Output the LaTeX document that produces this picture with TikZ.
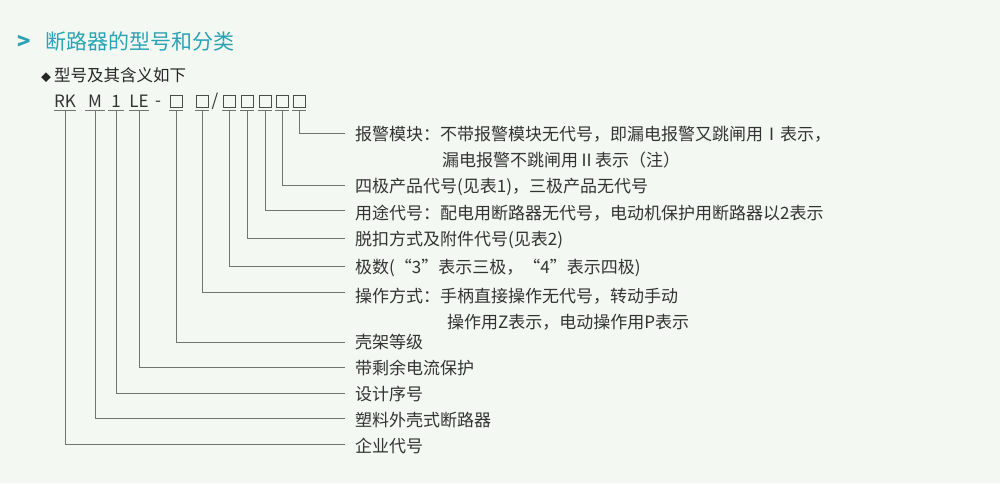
\documentclass[tikz,border=0pt]{standalone}
\usepackage{fontspec}
\setmainfont{Noto Sans CJK SC}
\begin{document}
\begin{tikzpicture}[x=1pt,y=-1pt,
  lbl/.style={anchor=west,inner sep=0pt,font=\fontsize{17}{17}\selectfont,text=black!80},
  code/.style={inner sep=0pt,font=\fontsize{17}{17}\selectfont,text=black!80},
  bx/.style={draw=black!70,line width=0.8pt,minimum width=12pt,minimum height=12pt,inner sep=0pt},
  ln/.style={draw=black!55,line width=0.9pt}]
\definecolor{bg}{HTML}{F4F8F3}\definecolor{teal}{HTML}{2AA3B4}
\fill[bg] (0,0) rectangle (1000,483);
\useasboundingbox (0,0) rectangle (1000,483);
\node[inner sep=0pt,font=\fontsize{22}{22}\selectfont\bfseries,text=teal] (gt) at (24,42) {>};
\node[anchor=west,inner sep=0pt,font=\fontsize{21}{21}\selectfont,text=teal] (title) at (45,42) {断路器的型号和分类};
\node[anchor=west,inner sep=0pt,font=\fontsize{16.5}{16.5}\selectfont,text=black!85] (sub) at (41,75) {\fontsize{10}{10}\selectfont\symbol{"25C6}\hspace{3pt}\fontsize{16.5}{16.5}\selectfont 型号及其含义如下};
% code items
\node[code] (c1) at (65,101) {RK};
\node[code] (c2) at (95,101) {M};
\node[code] (c3) at (116,101) {1};
\node[code] (c4) at (139,101) {LE};
\node[code,anchor=base] (dash) at (158,106.5) {-};
\node[bx] (c5) at (176,101) {};
\node[bx] (c6) at (202,101) {};
\node[code] (sl) at (215,101) {/};
\node[bx] (c7) at (229,101) {};
\node[bx] (c8) at (247,101) {};
\node[bx] (c9) at (265,101) {};
\node[bx] (c10) at (282,101) {};
\node[bx] (c11) at (299,101) {};
% underlines
\foreach \n/\x/\w in {c1/65/11,c2/95/10,c3/116/8,c4/139/10,c5/176/7,c6/202/7,c7/229/7,c8/247/7,c9/265/7,c10/282/7,c11/299/7}{
  \coordinate (u\n a) at (\x-\w,110); \coordinate (u\n b) at (\x+\w,110);
  \draw[ln] (u\n a) -- (u\n b);}
% labels
\node[lbl] (l11) at (355,134) {报警模块：不带报警模块无代号，即漏电报警又跳闸用Ⅰ表示，};
\node[lbl] (l11b) at (442,160) {漏电报警不跳闸用Ⅱ表示（注）};
\node[lbl] (l10) at (355,187) {四极产品代号(见表1)，三极产品无代号};
\node[lbl] (l9) at (355,213) {用途代号：配电用断路器无代号，电动机保护用断路器以2表示};
\node[lbl] (l8) at (355,240) {脱扣方式及附件代号(见表2)};
\node[lbl] (l7) at (355,268) {极数(“3”表示三极，“4”表示四极)};
\node[lbl] (l6) at (355,296) {操作方式：手柄直接操作无代号，转动手动};
\node[lbl] (l6b) at (447,322) {操作用Z表示，电动操作用P表示};
\node[lbl] (l5) at (355,342) {壳架等级};
\node[lbl] (l4) at (355,368) {带剩余电流保护};
\node[lbl] (l3) at (355,394) {设计序号};
\node[lbl] (l2) at (355,420) {塑料外壳式断路器};
\node[lbl] (l1) at (355,446) {企业代号};
% connectors
\foreach \n/\x/\y in {c1/65/444,c2/95/418,c3/116/393,c4/139/367,c5/176/342,c6/202/292,c7/229/266,c8/247/238,c9/265/210,c10/282/185,c11/299/133}{
  \coordinate (t\n) at (\x,111); \coordinate (e\n) at (345,\y);
  \draw[ln] (t\n) |- (e\n);}
\end{tikzpicture}
\end{document}
